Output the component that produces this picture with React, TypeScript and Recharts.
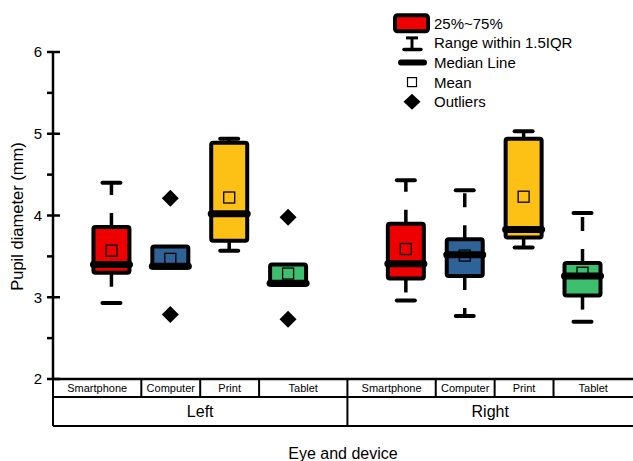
import React from 'react';
import { ComposedChart, Bar, XAxis, YAxis, Legend } from 'recharts';

// ---------- data ----------
const devices = ['Smartphone', 'Computer', 'Print', 'Tablet'];
const eyes = ['Left', 'Right'];
const slots = [1, 2, 3, 4, 6, 7, 8, 9];
const q3 = [3.86, 3.62, 4.89, 3.40, 3.90, 3.71, 4.94, 3.42];
const q1 = [3.30, 3.36, 3.69, 3.15, 3.23, 3.26, 3.73, 3.02];
const medians = [3.40, 3.38, 4.02, 3.17, 3.41, 3.52, 3.83, 3.26];
const means = [3.57, 3.47, 4.22, 3.29, 3.59, 3.51, 4.23, 3.30];
const whiskerHigh = [4.40, 3.62, 4.94, 3.40, 4.43, 4.31, 5.03, 4.03];
const whiskerLow = [2.93, 3.36, 3.57, 3.15, 2.96, 2.77, 3.61, 2.70];
const outliers: number[][] = [[], [4.21, 2.79], [], [3.98, 2.73], [], [], [], []];
const yTicks = [2, 2.5, 3, 3.5, 4, 4.5, 5, 5.5, 6];
const legendLabels = ['25%~75%', 'Range within 1.5IQR', 'Median Line', 'Mean', 'Outliers'];
const fills = ['#EE0000', '#2E6398', '#FCC114', '#3DBF6E'];

const X_MAX = 9.85;
const FONT = '"Liberation Sans", Arial, sans-serif';

const data = slots.map((pos, i) => {
  const outs = outliers[i];
  const lo = Math.min(whiskerLow[i], q1[i], ...outs);
  const hi = Math.max(whiskerHigh[i], q3[i], ...outs);
  return {
    pos,
    device: devices[i % devices.length],
    eye: eyes[Math.floor(i / devices.length)],
    q1: q1[i],
    q3: q3[i],
    median: medians[i],
    mean: means[i],
    wLo: whiskerLow[i],
    wHi: whiskerHigh[i],
    outs,
    lo,
    hi,
    range: [lo, hi],
    fill: fills[i % fills.length],
  };
});

// table cell edges (midpoints between slots)
const deviceEdges: number[] = [0];
for (let i = 1; i < slots.length; i++) deviceEdges.push((slots[i - 1] + slots[i]) / 2);
deviceEdges.push(X_MAX);
const deviceCenters = deviceEdges.slice(0, -1).map((e, i) => (e + deviceEdges[i + 1]) / 2);
const deviceLabelMap = new Map<number, string>();
deviceCenters.forEach((c, i) => deviceLabelMap.set(c, data[i].device));

const eyeEdges = [0, deviceEdges[devices.length], X_MAX];
const eyeCenters = [(eyeEdges[0] + eyeEdges[1]) / 2, (eyeEdges[1] + eyeEdges[2]) / 2];
const eyeLabelMap = new Map<number, string>();
eyeCenters.forEach((c, i) => eyeLabelMap.set(c, eyes[i]));

// ---------- shapes ----------
function BoxShape(props: any) {
  const { x, y, width, height, payload } = props;
  if (!payload || height == null || isNaN(y)) return null;
  const d = payload;
  const cx = x + width / 2;
  const py = (v: number) => y + (height * (d.hi - v)) / (d.hi - d.lo);
  const half = 18;
  const top = py(d.q3);
  const bot = py(d.q1);
  const whisker = { stroke: '#000', strokeWidth: 3.5, strokeDasharray: '14 18' };
  return (
    <g>
      {d.wHi > d.q3 && <line x1={cx} x2={cx} y1={top} y2={py(d.wHi)} {...whisker} />}
      {d.wLo < d.q1 && <line x1={cx} x2={cx} y1={bot} y2={py(d.wLo)} {...whisker} />}
      {d.wHi > d.q3 && (
        <line x1={cx - 9} x2={cx + 9} y1={py(d.wHi)} y2={py(d.wHi)} stroke="#000" strokeWidth={4} strokeLinecap="round" />
      )}
      {d.wLo < d.q1 && (
        <line x1={cx - 9} x2={cx + 9} y1={py(d.wLo)} y2={py(d.wLo)} stroke="#000" strokeWidth={4} strokeLinecap="round" />
      )}
      <rect x={cx - half} y={top} width={half * 2} height={bot - top} rx={2} fill={d.fill} stroke="#000" strokeWidth={4} />
      <rect x={cx - 5.5} y={py(d.mean) - 5.5} width={11} height={11} fill="none" stroke="#000" strokeWidth={1.3} />
      <line x1={cx - 18} x2={cx + 18} y1={py(d.median)} y2={py(d.median)} stroke="#000" strokeWidth={7} strokeLinecap="round" />
      {d.outs.map((o: number, k: number) => {
        const oy = py(o);
        return <polygon key={k} points={`${cx},${oy - 8.5} ${cx + 8.5},${oy} ${cx},${oy + 8.5} ${cx - 8.5},${oy}`} fill="#000" />;
      })}
    </g>
  );
}

function YTick(props: any) {
  const { x, y, payload } = props;
  const v = payload.value;
  const major = Number.isInteger(v);
  return (
    <g>
      <line x1={x - 6} x2={major ? x + 7 : x} y1={y} y2={y} stroke="#000" strokeWidth={2.5} />
      {major && (
        <text x={x - 11} y={y + 5.4} textAnchor="end" fontSize={15} fontFamily={FONT} fill="#000">
          {v}
        </text>
      )}
    </g>
  );
}

function DevTick(props: any) {
  const { x, y, payload } = props;
  const label = deviceLabelMap.get(payload.value);
  if (label !== undefined) {
    return (
      <text x={x} y={y + 13} textAnchor="middle" fontSize={11} fontFamily={FONT} fill="#000">
        {label}
      </text>
    );
  }
  return <line x1={x} x2={x} y1={y} y2={y + 18} stroke="#000" strokeWidth={2} />;
}

function EyeTick(props: any) {
  const { x, y, payload } = props;
  const label = eyeLabelMap.get(payload.value);
  if (label !== undefined) {
    return (
      <text x={x} y={y + 20} textAnchor="middle" fontSize={16} fontFamily={FONT} fill="#000">
        {label}
      </text>
    );
  }
  return <line x1={x} x2={x} y1={y} y2={y + 29} stroke="#000" strokeWidth={2} />;
}

function YLabel(props: any) {
  const vb = props.viewBox || { x: 0, y: 52, width: 53, height: 327 };
  const cx = 22.5;
  const cy = vb.y + vb.height / 2 + 1;
  return (
    <text
      x={cx}
      y={cy}
      transform={`rotate(-90 ${cx} ${cy})`}
      textAnchor="middle"
      fontSize={16.5}
      fontFamily={FONT}
      fill="#000"
    >
      Pupil diameter (mm)
    </text>
  );
}

function XTitle(props: any) {
  const vb = props.viewBox || { x: 53, y: 426, width: 580, height: 35 };
  return (
    <text x={vb.x + vb.width / 2} y={vb.y + vb.height - 2.5} textAnchor="middle" fontSize={16} fontFamily={FONT} fill="#000">
      Eye and device
    </text>
  );
}

function LegendContent() {
  const ix = 412;
  const base = 28.7;
  const step = 19.6;
  const cy = (i: number) => base + i * step - 5.4;
  return (
    <svg width={633} height={115} style={{ display: 'block' }}>
      <rect x={395} y={cy(0) - 8} width={33} height={16} rx={2.5} fill={fills[0]} stroke="#000" strokeWidth={4} />
      <line x1={ix - 6} x2={ix + 6} y1={cy(1) - 5} y2={cy(1) - 5} stroke="#000" strokeWidth={3} />
      <line x1={ix} x2={ix} y1={cy(1) - 5} y2={cy(1) + 6} stroke="#000" strokeWidth={3} />
      <line x1={ix - 8} x2={ix + 9} y1={cy(1) + 6.5} y2={cy(1) + 6.5} stroke="#000" strokeWidth={3.5} strokeLinecap="round" />
      <line x1={ix - 11} x2={ix + 12} y1={cy(2)} y2={cy(2)} stroke="#000" strokeWidth={6} strokeLinecap="round" />
      <rect x={ix - 4.5} y={cy(3) - 4.5} width={9} height={9} fill="#fff" stroke="#000" strokeWidth={1.2} />
      <polygon
        points={`${ix},${cy(4) - 8} ${ix + 8.5},${cy(4)} ${ix},${cy(4) + 8} ${ix - 8.5},${cy(4)}`}
        fill="#000"
      />
      {legendLabels.map((t, i) => (
        <text key={t} x={434} y={base + i * step} fontSize={15} fontFamily={FONT} fill="#000">
          {t}
        </text>
      ))}
    </svg>
  );
}

export default function App() {
  return (
    <div style={{ position: 'absolute', left: 0, top: 0, width: 633, height: 461, background: '#fff' }}>
      <ComposedChart width={633} height={461} data={data} margin={{ top: 52, right: 0, bottom: 0, left: 0 }}>
        <XAxis
          xAxisId="dev"
          dataKey="pos"
          type="number"
          domain={[0, X_MAX]}
          ticks={[...deviceEdges.slice(0, -1), ...deviceCenters]}
          interval={0}
          height={18}
          tickSize={0}
          tickMargin={0}
          tickLine={false}
          axisLine={{ stroke: '#000', strokeWidth: 2.5 }}
          tick={<DevTick />}
          allowDataOverflow
        />
        <XAxis
          xAxisId="eye"
          dataKey="pos"
          type="number"
          domain={[0, X_MAX]}
          ticks={[eyeEdges[0], eyeEdges[1], ...eyeCenters]}
          interval={0}
          height={29}
          tickSize={0}
          tickMargin={0}
          tickLine={false}
          axisLine={{ stroke: '#000', strokeWidth: 2 }}
          tick={<EyeTick />}
          allowDataOverflow
        />
        <XAxis
          xAxisId="title"
          dataKey="pos"
          type="number"
          domain={[0, X_MAX]}
          height={35}
          tick={false}
          tickLine={false}
          axisLine={{ stroke: '#000', strokeWidth: 2 }}
          label={(p: any) => <XTitle {...p} />}
          allowDataOverflow
        />
        <YAxis
          type="number"
          domain={[2, 6]}
          ticks={yTicks}
          interval={0}
          width={53}
          tickSize={0}
          tickMargin={0}
          tickLine={false}
          axisLine={{ stroke: '#000', strokeWidth: 2.5 }}
          tick={<YTick />}
          label={(p: any) => <YLabel {...p} />}
          allowDataOverflow
        />
        <Legend
          layout="vertical"
          align="center"
          verticalAlign="middle"
          wrapperStyle={{ left: 0, top: 0, width: 633, height: 115 }}
          content={() => <LegendContent />}
        />
        <Bar xAxisId="dev" dataKey="range" barSize={36} shape={<BoxShape />} isAnimationActive={false} />
      </ComposedChart>
    </div>
  );
}
